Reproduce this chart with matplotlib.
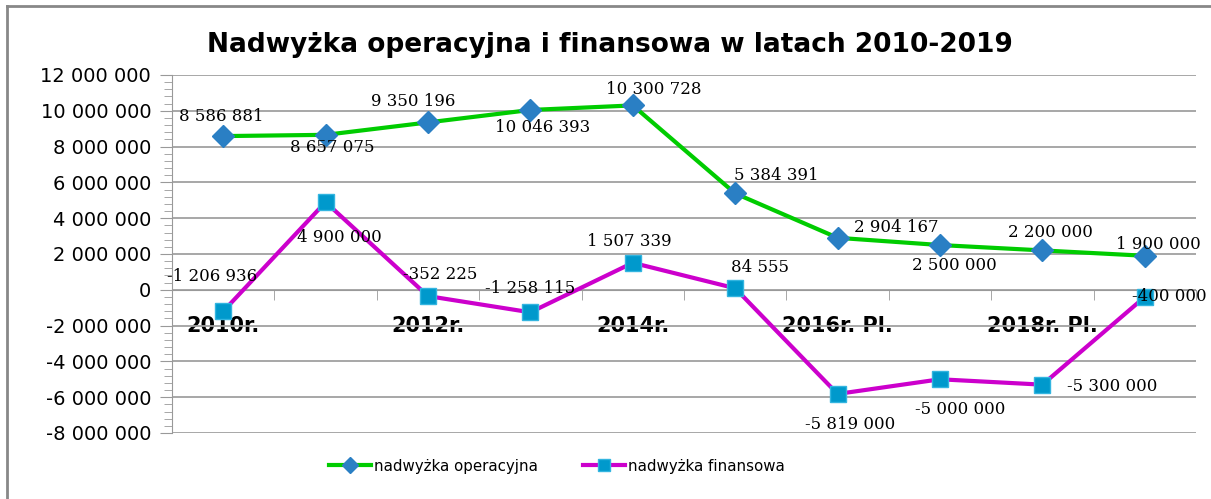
import numpy as np
import matplotlib
matplotlib.use('Agg')
import matplotlib.pyplot as plt
from matplotlib.ticker import MultipleLocator, FuncFormatter
from matplotlib.lines import Line2D

# data
years = ['2010r.', '2011r.', '2012r.', '2013r.', '2014r.',
         '2015r.', '2016r. Pl.', '2017r. Pl.', '2018r. Pl.', '2019r. Pl.']
operacyjna = [8586881, 8657075, 9350196, 10046393, 10300728,
              5384391, 2904167, 2500000, 2200000, 1900000]
finansowa = [-1206936, 4900000, -352225, -1258115, 1507339,
             84555, -5819000, -5000000, -5300000, -400000]

# label offsets in pixels (dx, dy)
off_op = [(-2, 20), (7, -13), (-15, 21), (12, -18), (21, 16),
          (41, 18), (59, 10), (14, -20), (8, 18), (14, 11)]
off_fin = [(-11, 35), (14, -35), (12, 22), (0, 24), (-3, 21),
           (25, 21), (13, -31), (20, -30), (70, -2), (25, 0)]

def fmt(v):
    return '{:,}'.format(int(v)).replace(',', ' ')

fig = plt.figure(figsize=(12.11, 4.99), dpi=100)
ax = fig.add_axes([0.142, 0.1323, 0.8456, 0.7174])

x = np.arange(len(years))
ax.plot(x, operacyjna, color='#00cc00', lw=3, marker='D', ms=11,
        mfc='#2a7fc4', mec='#2a7fc4', zorder=3)
ax.plot(x, finansowa, color='#cc00cc', lw=3, marker='s', ms=12,
        mfc='#0099cc', mec='#33b5e0', zorder=3)

for i in range(len(x)):
    ax.annotate(fmt(operacyjna[i]), (x[i], operacyjna[i]), xytext=off_op[i],
                textcoords='offset pixels', ha='center', va='center',
                family='DejaVu Serif', fontsize=12, zorder=4)
    ax.annotate(fmt(finansowa[i]), (x[i], finansowa[i]), xytext=off_fin[i],
                textcoords='offset pixels', ha='center', va='center',
                family='DejaVu Serif', fontsize=12, zorder=4)

ax.set_xlim(-0.5, 9.5)
ax.set_ylim(-8000000, 12000000)

# y axis
ax.yaxis.set_major_locator(MultipleLocator(2000000))
ax.yaxis.set_minor_locator(MultipleLocator(400000))
ax.yaxis.set_major_formatter(FuncFormatter(lambda v, p: fmt(v)))
ax.tick_params(axis='y', which='major', length=9, color='#999999',
               labelsize=14, pad=6)
ax.tick_params(axis='y', which='minor', length=6, color='#999999')
ax.grid(axis='y', color='#a0a0a0', lw=1.3)
ax.set_axisbelow(True)

# category axis at zero
ax.spines['bottom'].set_position(('data', 0))
ax.spines['bottom'].set_color('#999999')
ax.spines['left'].set_color('#999999')
ax.spines['top'].set_visible(False)
ax.spines['right'].set_visible(False)
ax.set_xticks(x[::2])
ax.set_xticklabels(years[::2], fontweight='bold', fontsize=15)
ax.set_xticks(np.arange(-0.5, 10, 1), minor=True)
ax.tick_params(axis='x', which='major', length=0, pad=19)
ax.tick_params(axis='x', which='minor', length=7, color='#999999')

fig.text(610 / 1211, 1 - 45 / 499, 'Nadwyżka operacyjna i finansowa w latach 2010-2019',
         fontsize=19, fontweight='bold', ha='center', va='center')

handles = [Line2D([], [], color='#00cc00', lw=3, marker='D', ms=8,
                  mfc='#2a7fc4', mec='#2a7fc4'),
           Line2D([], [], color='#cc00cc', lw=3, marker='s', ms=9,
                  mfc='#0099cc', mec='#33b5e0')]
fig.legend(handles, ['nadwyżka operacyjna', 'nadwyżka finansowa'],
           loc='center', bbox_to_anchor=(557 / 1211, 0.066), ncol=2, frameon=False,
           fontsize=10.8, handlelength=2.8, columnspacing=3, handletextpad=0.2)

# outer frame
fig.add_artist(Line2D([7/1211, 1], [1 - 6/499, 1 - 6/499],
                      transform=fig.transFigure, color='#888888', lw=2))
fig.add_artist(Line2D([7/1211, 7/1211], [0, 1 - 6/499],
                      transform=fig.transFigure, color='#888888', lw=2))

fig.savefig('out.png', dpi=100)
